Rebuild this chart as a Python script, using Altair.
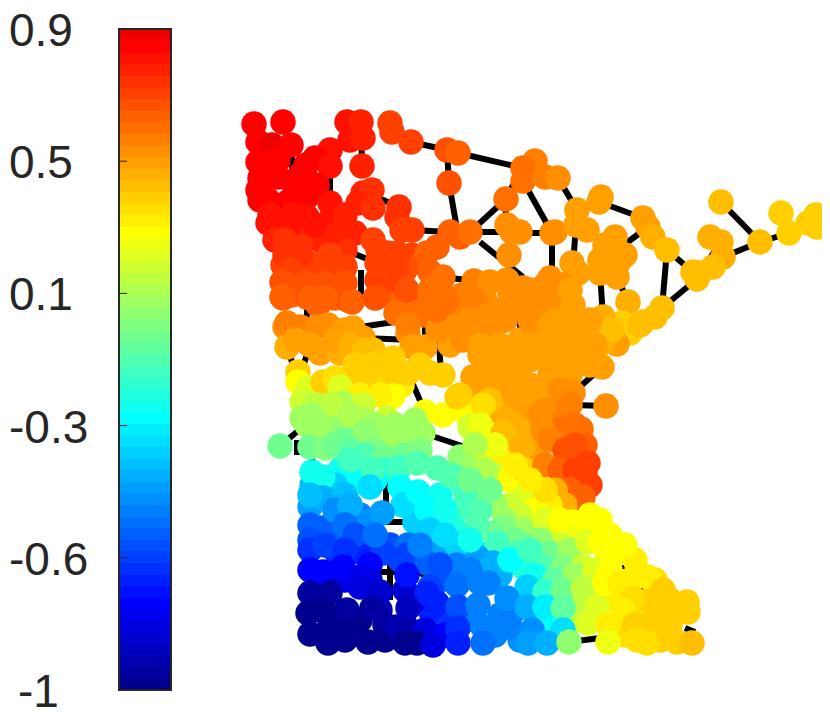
import altair as alt
import pandas as pd

# colour bar ends and its tick readings
bar_low, bar_high = -1.0, 0.9
tick_values = [0.52, 0.14, -0.24, -0.62]
labels_main = [(0.9, "0.9"), (0.52, "0.5"), (0.14, "0.1"), (-0.24, "-0.3"), (-0.62, "-0.6")]
labels_end = [(-1.0, "-1")]

# nodes: (x, y, value)
north_west = [(254,124,.88),(283,122,.87),(347,122,.84),(361,122,.79),(350,140,.83),(363,138,.80),(258,142,.88),(272,145,.91),(291,145,.86),(258,162,.87),(278,160,.87),(260,178,.87),(278,177,.87),(330,150,.84),(315,158,.86),(330,166,.85),(306,165,.87),(317,185,.87),(260,200,.87),(268,200,.87),(288,202,.86),(307,197,.86),(330,203,.84),(268,223,.85),(275,240,.80),(293,213,.84),(307,217,.84),(330,220,.83),(362,166,.79),(363,193,.79),(372,190,.78),(358,203,.79),(373,208,.78),(345,215,.81),(345,235,.80),(355,233,.79),(373,240,.75),(320,240,.80),(301,241,.76),(345,250,.76),(283,265,.74),(307,262,.74),(323,263,.74),(345,267,.74),(399,207,.76),(397,217,.76),(402,230,.74),(412,230,.72),(387,253,.73),(397,253,.73),(377,263,.74),(390,123,.74),(392,132,.74),(411,142,.73),(447,150,.70),(458,153,.68),(449,183,.70)]
north_fill = [(300,175,.87),(295,190,.87),(290,225,.83),(258,190,.87),(270,215,.85),(285,240,.78),(330,235,.8),(315,225,.82),(285,255,.76),(300,255,.76),(330,255,.75),(290,270,.72),(315,275,.72),(335,275,.72),(292,295,.68),(318,305,.68),(335,298,.67),(405,270,.7),(412,255,.72),(395,270,.72),(378,250,.74),(385,275,.72),(395,295,.68),(415,305,.64),(425,315,.62),(440,320,.60),(452,305,.6),(462,295,.6),(485,300,.58),(500,310,.57),(520,305,.57),(535,300,.56),(505,320,.56),(480,335,.56),(495,325,.56),(450,345,.55)]
north_mid = [(282,282,.71),(282,297,.68),(305,283,.71),(307,297,.69),(325,283,.71),(345,283,.71),(348,300,.69),(377,280,.73),(390,280,.72),(377,297,.71),(407,290,.69),(422,263,.70),(430,272,.66),(427,253,.68),(443,277,.63),(430,290,.64),(440,287,.63),(447,300,.62),(437,247,.67),(450,232,.68),(460,237,.66),(470,232,.63),(474,281,.61),(490,282,.58),(507,280,.57),(510,292,.56),(523,288,.57),(475,300,.59),(506,199,.62),(507,225,.58),(512,232,.58),(520,232,.58),(509,255,.57)]
north_east = [(535,161,.60),(523,168,.64),(523,181,.62),(545,177,.60),(558,178,.58),(552,233,.57),(555,232,.58),(577,210,.55),(576,225,.53),(587,230,.53),(599,202,.53),(601,197,.53),(643,218,.53),(648,227,.52),(653,237,.51),(667,250,.48),(721,202,.48),(760,242,.48),(781,213,.45),(789,233,.45),(808,223,.45),(816,215,.45),(817,227,.45),(710,237,.49),(721,242,.49),(723,257,.49),(713,267,.48),(700,273,.48),(693,272,.48),(697,279,.48),(615,237,.52),(617,250,.52),(618,263,.52),(600,260,.53),(600,273,.53),(617,277,.53),(572,263,.55),(578,273,.55),(563,285,.57),(550,278,.58),(543,310,.57),(560,310,.55),(571,317,.54),(573,335,.54),(628,302,.51),(662,308,.47),(655,317,.47),(643,322,.47),(622,323,.45),(630,333,.44),(617,344,.55),(602,343,.50),(603,317,.50),(583,347,.53),(557,347,.54),(542,340,.55),(520,340,.55),(570,318,.53),(545,285,.57),(530,290,.56),(520,300,.57),(555,295,.56),(570,290,.55),(573,305,.54),(580,325,.53),(590,335,.52),(600,330,.5),(612,330,.48),(640,325,.46),(610,250,.52),(625,255,.52),(605,245,.52)]
central = [(283,298,.67),(310,298,.67),(325,298,.67),(352,302,.67),(375,298,.69),(396,313,.63),(285,327,.58),(287,323,.60),(300,327,.59),(317,327,.58),(328,325,.58),(353,328,.55),(363,338,.52),(287,347,.50),(310,345,.53),(320,353,.52),(340,353,.50),(373,350,.48),(408,333,.58),(408,325,.60),(412,347,.55),(425,347,.52),(438,330,.57),(437,310,.62),(475,307,.60),(463,340,.56),(455,327,.57),(493,337,.56),(470,320,.58),(490,315,.57),(510,310,.57),(530,320,.56),(550,325,.55),(590,320,.53),(493,367,.55),(520,367,.55),(543,357,.54),(573,353,.53),(602,367,.54),(510,350,.55),(480,355,.54),(530,385,.54),(550,375,.54),(570,375,.54),(590,365,.53),(473,377,.52),(505,383,.53),(515,397,.53),(507,405,.52),(533,407,.54),(573,393,.58),(557,410,.60),(581,429,.63),(606,406,.56),(480,390,.52),(545,395,.54),(565,415,.62)]
central_fill = [(480,345,.55),(500,345,.55),(530,345,.55),(560,345,.54),(500,360,.54),(530,360,.54),(560,360,.54),(580,360,.53),(595,345,.53),(510,375,.53),(490,380,.52),(560,390,.56),(545,410,.58),(520,415,.53),(500,415,.5),(490,400,.48),(515,425,.5),(530,425,.55),(570,405,.6),(555,425,.6),(570,430,.65),(585,445,.68),(575,425,.63),(295,340,.52),(335,340,.54),(345,330,.55),(350,345,.5),(365,350,.47),(380,360,.46),(355,365,.44),(350,378,.42),(380,375,.42),(420,365,.45),(402,385,.38),(375,385,.4),(345,395,.3),(330,395,.35),(315,395,.28),(370,395,.33)]
belt = [(298,372,.44),(298,382,.34),(307,388,.26),(323,382,.42),(335,378,.40),(340,387,.27),(365,378,.42),(393,373,.44),(408,373,.44),(373,365,.44),(393,358,.45),(430,373,.45),(443,375,.45),(393,396,.34),(360,395,.36),(380,395,.38),(425,412,.35),(443,415,.34),(465,412,.34),(457,397,.42),(483,405,.40),(460,395,.42),(302,402,.22),(323,413,.18),(343,403,.18),(363,405,.22),(302,418,.15),(307,425,.12),(338,427,.10),(352,430,.10),(407,433,.12),(387,418,.22),(423,433,.13),(280,446,.03),(310,447,.05),(326,448,.07),(350,445,.0),(378,440,.12),(397,440,.12),(470,427,.22)]
belt_fill = [(315,405,.2),(330,405,.2),(350,415,.18),(365,420,.18),(375,425,.15),(395,425,.14),(320,425,.12),(312,415,.15),(345,440,.02),(360,445,.03),(365,432,.1),(415,420,.14),(390,445,.12),(375,450,.08),(335,445,.03),(350,450,.0),(365,455,-.02),(385,458,.03),(405,455,.05),(420,450,.08),(340,470,-.15),(360,470,-.1),(385,470,-.1),(345,480,-.2),(360,482,-.2),(375,480,-.2),(335,485,-.3),(320,485,-.3),(312,485,-.32)]
diagonal = [(520,430,.5),(535,450,.55),(510,445,.42),(490,435,.35),(480,425,.3),(540,415,.57),(560,430,.62),(575,445,.7),(503,433,.48),(543,430,.57),(550,440,.6),(522,447,.5),(565,450,.7),(588,463,.74),(585,473,.73),(460,457,.1),(472,467,.12),(487,453,.3),(500,460,.37),(480,490,.15),(495,475,.25),(510,480,.33),(525,470,.42),(545,465,.60),(560,470,.68),(575,470,.73),(590,485,.73),(580,487,.72),(583,497,.68),(580,507,.66),(570,490,.68),(555,490,.5),(540,490,.35),(525,495,.28),(510,505,.22),(495,505,.13),(475,505,.07),(463,507,-.06),(565,505,.5),(550,505,.38),(535,510,.33),(520,515,.25),(505,520,.15),(573,522,.33),(582,527,.34),(567,533,.3),(540,528,.2),(523,530,.13),(503,527,.07),(493,533,.02),(477,525,-.02),(453,527,-.13),(437,525,-.19),(545,520,.28),(555,535,.24),(530,545,.02),(515,540,.02),(540,540,.1),(560,520,.32),(545,490,.4),(530,480,.38),(515,465,.38),(495,445,.3),(475,445,.17),(485,470,.18)]
south_upper = [(312,472,-.18),(323,477,-.15),(350,460,-.05),(373,470,-.05),(400,467,-.06),(417,463,-.03),(437,468,-.02),(457,477,.02),(400,487,-.2),(310,507,-.40),(323,498,-.37),(310,495,-.33),(345,495,-.33),(370,487,-.27),(415,522,-.3),(403,505,-.25),(418,492,-.2),(440,495,-.15),(310,525,-.53),(322,528,-.52),(335,537,-.53),(360,515,-.48),(370,520,-.43),(382,513,-.4),(310,540,-.58),(390,545,-.55),(408,545,-.5),(438,548,-.4),(457,545,-.3),(477,553,-.27),(497,543,-.07),(520,553,-.07),(550,553,.05),(570,550,.12),(588,542,.26),(600,542,.32),(310,550,-.62),(337,553,-.62),(360,552,-.65),(383,553,-.6),(407,555,-.6),(427,563,-.53),(457,565,-.47),(478,558,-.4),(493,563,-.35),(523,567,-.13),(543,567,-.03),(563,567,.07),(583,567,.22),(607,553,.33),(618,552,.34),(635,560,.36)]
south_fill = [(335,510,-.42),(350,505,-.38),(345,525,-.5),(355,535,-.55),(375,535,-.5),(427,510,-.2),(445,510,-.17),(430,530,-.3),(445,535,-.25),(470,540,-.15),(480,510,-.02),(490,490,.05),(465,490,-.08),(450,475,-.02),(470,480,.03),(325,545,-.6),(345,550,-.62),(370,565,-.72),(345,580,-.78),(325,585,-.85),(370,580,-.8),(400,560,-.6),(420,545,-.45),(440,565,-.55),(470,570,-.45),(500,575,-.35),(510,560,-.2),(530,550,-.05),(535,575,-.18),(555,580,0),(575,575,.12),(595,570,.27),(595,590,.3),(575,600,.2),(515,610,-.45),(500,615,-.47),(495,635,-.47),(475,620,-.47),(445,620,-.62),(430,610,-.68),(415,600,-.75),(440,580,-.55),(405,590,-.82),(380,610,-.9),(385,625,-.93),(360,620,-.95),(330,625,-.97),(345,640,-.97),(385,640,-.97),(405,625,-.92),(425,630,-.8),(445,635,-.72),(540,615,-.32),(520,640,-.42),(550,620,-.2),(575,620,.2),(615,600,.36),(640,610,.41),(650,600,.42),(665,610,.43),(670,625,.43),(650,630,.42),(625,635,.4),(660,640,.42),(610,570,.35),(630,580,.37),(655,580,.4),(600,520,.34),(610,535,.34),(590,515,.33),(625,545,.35),(640,575,.37),(670,600,.45)]
south_lower = [(310,570,-.72),(323,572,-.73),(343,567,-.73),(360,577,-.77),(407,575,-.7),(430,587,-.6),(457,585,-.5),(480,583,-.47),(527,587,-.3),(545,592,-.1),(563,590,.03),(583,588,.2),(605,583,.33),(620,583,.36),(633,598,.4),(648,577,.36),(663,590,.44),(657,598,.44),(310,593,-.93),(330,593,-.92),(360,587,-.8),(380,592,-.82),(427,593,-.67),(437,603,-.65),(458,607,-.55),(478,605,-.47),(488,583,-.47),(507,598,-.42),(527,607,-.38),(545,607,-.22),(563,608,0.0),(597,607,.28),(623,610,.38),(308,613,-.95),(325,612,-.95),(347,610,-.93),(372,608,-.93),(408,608,-.87),(397,627,-.9),(458,628,-.62),(483,627,-.45),(510,627,-.45),(532,630,-.42),(563,630,-.25),(588,623,.27),(608,625,.38),(635,625,.42),(657,615,.43),(680,612,.44),(688,612,.44),(687,602,.45),(310,634,-.96),(328,643,-.97),(347,630,-.95),(368,642,-.98),(405,643,-.96),(417,643,-.95),(433,645,-.8),(458,643,-.68),(483,643,-.5),(528,643,-.4),(547,643,-.37),(569,642,.09),(608,642,.3),(637,640,.4),(647,643,.41),(677,642,.43),(692,643,.46)]

# my colour readings sit half a colour step above the bar's bins
reading_shift = 0.017

# visible links: (x1, y1, x2, y2)
links = [(721,202,760,242),(760,242,789,233),(760,242,723,257),(721,242,700,273),(667,250,693,272),(667,250,662,308),(662,308,697,279),(599,202,643,218),(648,227,617,250),(558,178,577,210),(523,181,552,233),(515,233,552,233),(552,233,552,270),(576,225,573,265),(587,230,600,245),(600,273,603,317),(617,277,628,302),(571,317,600,325),(411,142,447,150),(390,123,411,142),(458,153,523,168),(447,150,449,183),(449,183,458,235),(361,122,362,166),(372,195,399,207),(412,230,450,232),(470,232,506,199),(470,232,512,232),(480,242,523,277),(523,167,505,200),(505,200,507,230),(330,166,330,200),(292,150,292,170),(443,277,474,281),(474,281,474,300),(345,250,377,263),(361,270,361,295),(353,328,408,320),(363,338,412,340),(438,330,441,373),(287,347,298,380),(310,345,298,382),(408,373,425,412),(423,433,465,447),(280,446,305,425),(573,405,606,406),(570,325,603,320),(573,393,602,367),(570,290,570,310),(473,285,473,300),(520,315,520,335),(543,315,543,335),(425,305,425,335),(307,305,307,320),(323,305,323,320),(340,357,372,357),(312,450,312,475),(297,440,297,455),(386,465,386,510),(380,572,400,572),(390,560,390,600),(386,522,410,522),(342,515,342,530),(569,642,608,637),(490,615,498,625),(622,565,622,570),(418,572,430,578),(640,590,650,595),(645,622,652,630),(685,628,695,632)]

# jet, 64 levels, of which the bar shows the first 57
def jet_hex(i):
    t = (i + 1) / 64
    r = min(max(min(4 * t - 1.5, -4 * t + 4.5), 0), 1)
    g = min(max(min(4 * t - 0.5, -4 * t + 3.5), 0), 1)
    b = min(max(min(4 * t + 0.5, -4 * t + 2.5), 0), 1)
    return "#%02x%02x%02x" % (round(r * 255), round(g * 255), round(b * 255))

palette = [jet_hex(i) for i in range(57)]
step = (bar_high - bar_low) / len(palette)
bands = pd.DataFrame({
    "low": [bar_low + i * step for i in range(len(palette))],
    "high": [bar_low + (i + 1) * step for i in range(len(palette))],
})
bands["mid"] = (bands["low"] + bands["high"]) / 2

nodes = pd.DataFrame(
    north_west + north_fill + north_mid + north_east + central + central_fill + belt + belt_fill
    + diagonal + south_upper + south_fill + south_lower,
    columns=["x", "y", "v"],
)
nodes["v"] = nodes["v"] - reading_shift
edges = pd.DataFrame(links, columns=["x", "y", "x2", "y2"])

W, H = 814, 707
xs = alt.Scale(domain=[8, 822], range=[0, W])
ys = alt.Scale(domain=[715, 8], range=[H, 0])
bar_scale = alt.Scale(domain=[bar_low, bar_high], range=[682, 21])
color_scale = alt.Scale(type="quantize", domain=[bar_low, bar_high], range=palette)

edge_layer = alt.Chart(edges).mark_rule(color="black", strokeWidth=6).encode(
    x=alt.X("x:Q", scale=xs, axis=None),
    y=alt.Y("y:Q", scale=ys, axis=None),
    x2="x2:Q",
    y2="y2:Q",
)
node_layer = alt.Chart(nodes).mark_circle(size=650, opacity=1).encode(
    x=alt.X("x:Q", scale=xs, axis=None),
    y=alt.Y("y:Q", scale=ys, axis=None),
    color=alt.Color("v:Q", scale=color_scale, legend=None),
)
map_layers = alt.layer(edge_layer, node_layer)

band_layer = alt.Chart(bands).mark_rect(strokeWidth=1).encode(
    x=alt.value(111),
    x2=alt.value(163),
    y=alt.Y("low:Q", scale=bar_scale, axis=None),
    y2="high:Q",
    color=alt.Color("mid:Q", scale=color_scale, legend=None),
    stroke=alt.Color("mid:Q", scale=color_scale, legend=None),
)
frame_layer = alt.Chart(pd.DataFrame({"low": [bar_low], "high": [bar_high]})).mark_rect(
    filled=False, stroke="#262626", strokeWidth=2
).encode(
    x=alt.value(111),
    x2=alt.value(163),
    y=alt.Y("low:Q", scale=bar_scale, axis=None),
    y2="high:Q",
)
tick_layer = alt.Chart(pd.DataFrame({"t": tick_values})).mark_rule(color="#262626", strokeWidth=1).encode(
    x=alt.value(111),
    x2=alt.value(119),
    y=alt.Y("t:Q", scale=bar_scale, axis=None),
)

def label_layer(rows, px):
    return alt.Chart(pd.DataFrame(rows, columns=["t", "s"])).mark_text(
        font="Liberation Sans", fontSize=46, color="#262626", align="left", baseline="middle", dy=3
    ).encode(
        x=alt.value(px),
        y=alt.Y("t:Q", scale=bar_scale, axis=None),
        text="s:N",
    )

bar_layers = alt.layer(
    band_layer, frame_layer, tick_layer,
    label_layer(labels_main, 1), label_layer(labels_end, 10),
)

chart = alt.layer(map_layers, bar_layers).resolve_scale(y="independent").properties(
    width=W, height=H, padding=0, autosize=alt.AutoSizeParams(type="none"), background="white",
).configure_view(stroke=None)

chart.save("out.html", embed_options={"renderer": "svg", "actions": False})
